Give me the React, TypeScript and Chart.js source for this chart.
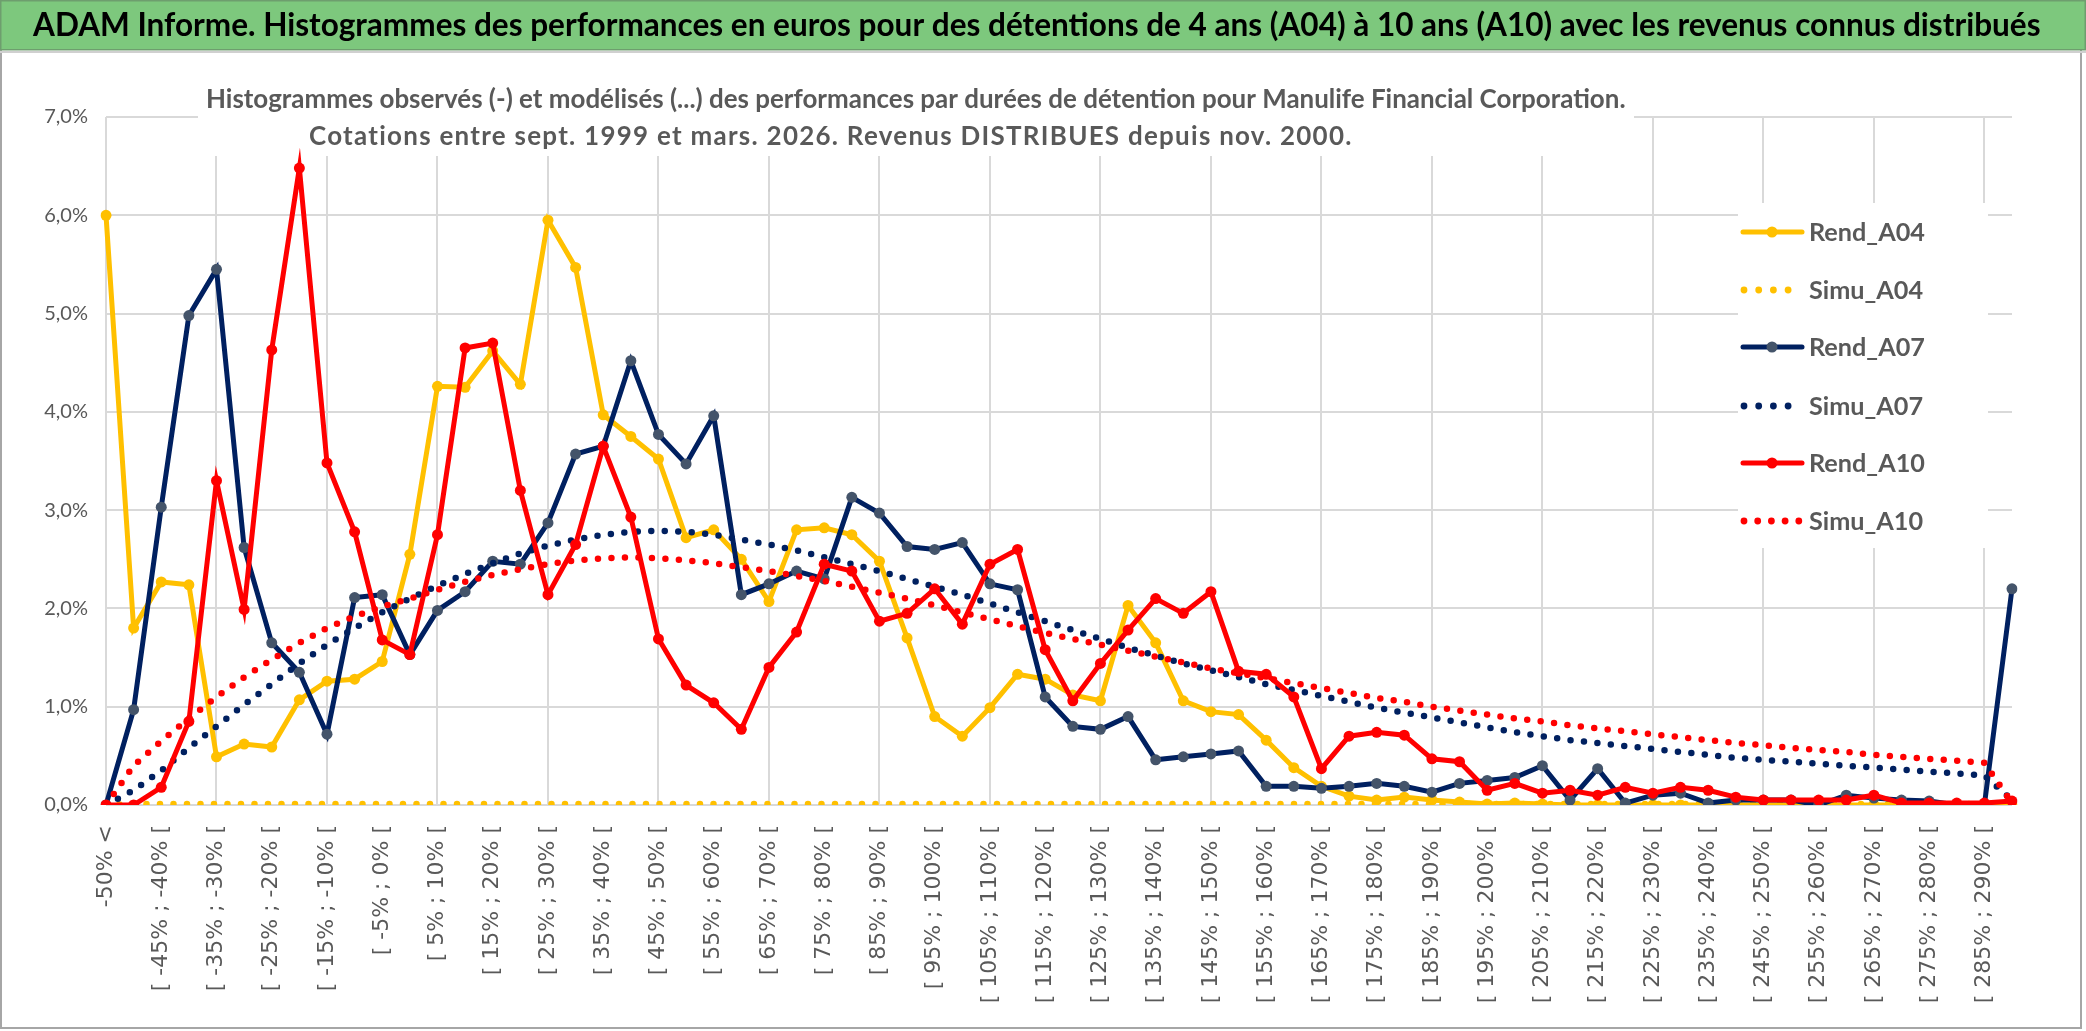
import React, { useEffect, useRef } from "react";
import { Chart, registerables } from "chart.js";

Chart.register(...registerables);

const TITLE =
  "ADAM Informe. Histogrammes des performances en euros pour des détentions de 4 ans (A04) à 10 ans (A10) avec les revenus connus distribués";
const SUBTITLE_1 =
  "Histogrammes observés (-) et modélisés (...) des performances par durées de détention pour Manulife Financial Corporation.";
const SUBTITLE_2 =
  "Cotations entre sept. 1999 et mars. 2026. Revenus DISTRIBUES depuis nov. 2000.";

const categories = [
  "-50% <",
  "[ -50% ; -45% [", "[ -45% ; -40% [", "[ -40% ; -35% [", "[ -35% ; -30% [",
  "[ -30% ; -25% [", "[ -25% ; -20% [", "[ -20% ; -15% [", "[ -15% ; -10% [",
  "[ -10% ; -5% [", "[ -5% ; 0% [", "[ 0% ; 5% [", "[ 5% ; 10% [",
  "[ 10% ; 15% [", "[ 15% ; 20% [", "[ 20% ; 25% [", "[ 25% ; 30% [",
  "[ 30% ; 35% [", "[ 35% ; 40% [", "[ 40% ; 45% [", "[ 45% ; 50% [",
  "[ 50% ; 55% [", "[ 55% ; 60% [", "[ 60% ; 65% [", "[ 65% ; 70% [",
  "[ 70% ; 75% [", "[ 75% ; 80% [", "[ 80% ; 85% [", "[ 85% ; 90% [",
  "[ 90% ; 95% [", "[ 95% ; 100% [", "[ 100% ; 105% [", "[ 105% ; 110% [",
  "[ 110% ; 115% [", "[ 115% ; 120% [", "[ 120% ; 125% [", "[ 125% ; 130% [",
  "[ 130% ; 135% [", "[ 135% ; 140% [", "[ 140% ; 145% [", "[ 145% ; 150% [",
  "[ 150% ; 155% [", "[ 155% ; 160% [", "[ 160% ; 165% [", "[ 165% ; 170% [",
  "[ 170% ; 175% [", "[ 175% ; 180% [", "[ 180% ; 185% [", "[ 185% ; 190% [",
  "[ 190% ; 195% [", "[ 195% ; 200% [", "[ 200% ; 205% [", "[ 205% ; 210% [",
  "[ 210% ; 215% [", "[ 215% ; 220% [", "[ 220% ; 225% [", "[ 225% ; 230% [",
  "[ 230% ; 235% [", "[ 235% ; 240% [", "[ 240% ; 245% [", "[ 245% ; 250% [",
  "[ 250% ; 255% [", "[ 255% ; 260% [", "[ 260% ; 265% [", "[ 265% ; 270% [",
  "[ 270% ; 275% [", "[ 275% ; 280% [", "[ 280% ; 285% [", "[ 285% ; 290% [",
  "> 290%",
];

const rendA04 = [
  6.0, 1.8, 2.27, 2.24, 0.49, 0.62, 0.59, 1.07, 1.26, 1.28,
  1.46, 2.55, 4.26, 4.25, 4.62, 4.28, 5.95, 5.47, 3.97, 3.75,
  3.52, 2.72, 2.8, 2.5, 2.07, 2.8, 2.82, 2.75, 2.48, 1.7,
  0.9, 0.7, 0.99, 1.33, 1.28, 1.12, 1.06, 2.03, 1.65, 1.06,
  0.95, 0.92, 0.66, 0.38, 0.19, 0.09, 0.05, 0.08, 0.05, 0.03,
  0.01, 0.02, 0.01, 0.0, 0.0, 0.0, 0.0, 0.0, 0.0, 0.0,
  0.0, 0.0, 0.0, 0.0, 0.0, 0.0, 0.0, 0.0, 0.0, 0.0,
];

const simuA04 = [
  0.0, 0.01, 0.01, 0.01, 0.01, 0.01, 0.01, 0.01, 0.01, 0.01,
  0.01, 0.01, 0.01, 0.01, 0.01, 0.01, 0.01, 0.01, 0.01, 0.01,
  0.01, 0.01, 0.01, 0.01, 0.01, 0.01, 0.01, 0.01, 0.01, 0.01,
  0.01, 0.01, 0.01, 0.01, 0.01, 0.01, 0.01, 0.01, 0.01, 0.01,
  0.01, 0.01, 0.01, 0.01, 0.01, 0.01, 0.01, 0.01, 0.01, 0.01,
  0.01, 0.01, 0.01, 0.01, 0.01, 0.01, 0.01, 0.01, 0.01, 0.01,
  0.01, 0.01, 0.01, 0.01, 0.01, 0.01, 0.01, 0.01, 0.01, 0.0,
];

const rendA07 = [
  0.0, 0.97, 3.03, 4.98, 5.45, 2.62, 1.65, 1.35, 0.72, 2.11,
  2.14, 1.53, 1.98, 2.17, 2.48, 2.45, 2.87, 3.57, 3.65, 4.52,
  3.77, 3.47, 3.96, 2.14, 2.25, 2.38, 2.3, 3.13, 2.97, 2.63,
  2.6, 2.67, 2.25, 2.19, 1.1, 0.8, 0.77, 0.9, 0.46, 0.49,
  0.52, 0.55, 0.19, 0.19, 0.17, 0.19, 0.22, 0.19, 0.13, 0.22,
  0.25, 0.28, 0.4, 0.05, 0.37, 0.02, 0.1, 0.12, 0.02, 0.05,
  0.05, 0.05, 0.0, 0.1, 0.07, 0.05, 0.04, 0.0, 0.0, 2.2,
];

const simuA07 = [
  0.0, 0.15, 0.35, 0.58, 0.8, 1.02, 1.23, 1.44, 1.63, 1.8,
  1.96, 2.1, 2.23, 2.35, 2.46, 2.56, 2.64, 2.7, 2.75, 2.78,
  2.79, 2.78, 2.75, 2.7, 2.65, 2.59, 2.52, 2.45, 2.38, 2.3,
  2.22, 2.14, 2.05, 1.96, 1.87, 1.78, 1.69, 1.6, 1.52, 1.44,
  1.37, 1.3, 1.23, 1.17, 1.11, 1.05, 0.99, 0.94, 0.89, 0.84,
  0.79, 0.74, 0.7, 0.66, 0.63, 0.6, 0.57, 0.54, 0.51, 0.48,
  0.46, 0.44, 0.42, 0.4, 0.38, 0.36, 0.34, 0.32, 0.3, 0.05,
];

const rendA10 = [
  0.0, 0.0, 0.18, 0.85, 3.3, 1.99, 4.63, 6.48, 3.48, 2.78,
  1.68, 1.53, 2.75, 4.65, 4.7, 3.2, 2.14, 2.65, 3.65, 2.93,
  1.69, 1.22, 1.04, 0.77, 1.4, 1.76, 2.45, 2.38, 1.87, 1.95,
  2.2, 1.84, 2.45, 2.6, 1.58, 1.06, 1.44, 1.78, 2.1, 1.95,
  2.17, 1.36, 1.33, 1.1, 0.37, 0.7, 0.74, 0.71, 0.47, 0.44,
  0.15, 0.22, 0.12, 0.15, 0.1, 0.18, 0.12, 0.18, 0.15, 0.08,
  0.05, 0.05, 0.05, 0.05, 0.1, 0.02, 0.02, 0.02, 0.02, 0.04,
];

const simuA10 = [
  0.0, 0.4, 0.65, 0.88, 1.1, 1.3, 1.48, 1.65, 1.8, 1.92,
  2.02, 2.1, 2.19, 2.27, 2.34, 2.4, 2.45, 2.49, 2.51, 2.52,
  2.51, 2.49, 2.46, 2.42, 2.38, 2.33, 2.28, 2.22, 2.16, 2.1,
  2.03, 1.96, 1.89, 1.82, 1.75, 1.69, 1.63, 1.57, 1.51, 1.45,
  1.39, 1.34, 1.29, 1.24, 1.19, 1.14, 1.09, 1.05, 1.0, 0.96,
  0.92, 0.88, 0.85, 0.81, 0.78, 0.75, 0.72, 0.69, 0.66, 0.63,
  0.61, 0.58, 0.56, 0.54, 0.51, 0.49, 0.47, 0.45, 0.43, 0.02,
];

const YELLOW = "#FFC000";
const NAVY = "#002060";
const NAVY_POINT = "#44546A";
const RED = "#FF0000";
const GRID = "#D9D9D9";
const TEXT_GREY = "#595959";

const legendItems = [
  { label: "Rend_A04", color: YELLOW, point: YELLOW, dotted: false, dots: 4 },
  { label: "Simu_A04", color: YELLOW, point: YELLOW, dotted: true, dots: 4 },
  { label: "Rend_A07", color: NAVY, point: NAVY_POINT, dotted: false, dots: 4 },
  { label: "Simu_A07", color: NAVY, point: NAVY, dotted: true, dots: 4 },
  { label: "Rend_A10", color: RED, point: RED, dotted: false, dots: 4 },
  { label: "Simu_A10", color: RED, point: RED, dotted: true, dots: 5 },
];

function fitFont(ctx: CanvasRenderingContext2D, text: string, weight: string, family: string, target: number) {
  ctx.font = `${weight} 100px ${family}`;
  const w = ctx.measureText(text).width;
  return (100 * target) / w;
}

const overlayPlugin = {
  id: "overlay",
  beforeDraw(chart: any) {
    const ctx: CanvasRenderingContext2D = chart.ctx;
    const W = chart.width;
    const H = chart.height;
    ctx.save();
    ctx.fillStyle = "#FFFFFF";
    ctx.fillRect(0, 0, W, H);
    ctx.strokeStyle = "#A6A6A6";
    ctx.lineWidth = 2;
    ctx.strokeRect(1, 1, W - 6, H - 4);
    ctx.fillStyle = "#7DC87D";
    ctx.fillRect(0, 0, W, 50);
    ctx.strokeStyle = "#6E9E6E";
    ctx.lineWidth = 1.5;
    ctx.strokeRect(0.75, 0.75, W - 1.5, 49);
    ctx.fillStyle = "#D0D0D0";
    ctx.fillRect(0, 51, W, 2);
    const fam = "Lato, 'Open Sans', sans-serif";
    const ts = fitFont(ctx, TITLE, "bold", fam, 2009);
    ctx.font = `bold ${ts}px ${fam}`;
    ctx.fillStyle = "#000000";
    ctx.textBaseline = "middle";
    ctx.textAlign = "left";
    ctx.fillText(TITLE, 33, 26);
    ctx.restore();
  },
  beforeDatasetsDraw(chart: any) {
    const ctx: any = chart.ctx;
    const area = chart.chartArea;
    const xs = chart.scales.x;
    ctx.save();
    // vertical gridlines every 4 categories
    ctx.strokeStyle = GRID;
    ctx.lineWidth = 2;
    for (let k = 0; k < categories.length; k += 4) {
      const x = Math.round(xs.getPixelForValue(k));
      ctx.beginPath();
      ctx.moveTo(x, area.top);
      ctx.lineTo(x, area.bottom);
      ctx.stroke();
    }
    const fam = "Lato, 'Open Sans', sans-serif";
    // subtitle
    const ss1 = fitFont(ctx, SUBTITLE_1, "bold", fam, 1420);
    ctx.fillStyle = "#FFFFFF";
    ctx.fillRect(198, 82, 1436, 74);
    ctx.fillStyle = TEXT_GREY;
    ctx.textBaseline = "middle";
    ctx.textAlign = "left";
    ctx.font = `bold ${ss1}px ${fam}`;
    ctx.fillText(SUBTITLE_1, 206, 100);
    const w2 = ctx.measureText(SUBTITLE_2).width;
    const spacing = Math.max(0, (1044 - w2) / SUBTITLE_2.length);
    ctx.letterSpacing = `${spacing.toFixed(2)}px`;
    ctx.fillText(SUBTITLE_2, 309, 137);
    ctx.letterSpacing = "0px";

    // legend
    ctx.fillStyle = "#FFFFFF";
    ctx.fillRect(1738, 203, 250, 345);
    const ls = fitFont(ctx, "Rend_A04", "bold", fam, 116);
    const ys = [232, 290, 347, 406, 463, 521];
    legendItems.forEach((it, i) => {
      const y = ys[i];
      if (!it.dotted) {
        ctx.strokeStyle = it.color;
        ctx.lineWidth = 5;
        ctx.lineCap = "round";
        ctx.beginPath();
        ctx.moveTo(1743, y);
        ctx.lineTo(1802, y);
        ctx.stroke();
        ctx.fillStyle = it.point;
        ctx.beginPath();
        ctx.arc(1772, y, 5.5, 0, Math.PI * 2);
        ctx.fill();
      } else {
        ctx.fillStyle = it.color;
        const n = it.dots;
        const step = n === 5 ? 13.7 : 14.7;
        for (let d = 0; d < n; d++) {
          ctx.beginPath();
          ctx.arc(1744 + d * step, y, 3.4, 0, Math.PI * 2);
          ctx.fill();
        }
      }
      ctx.font = `bold ${ls}px ${fam}`;
      ctx.fillStyle = TEXT_GREY;
      ctx.textBaseline = "middle";
      ctx.textAlign = "left";
      ctx.fillText(it.label, 1809, y + 1);
    });
    ctx.restore();
  },
};

export default function App() {
  const ref = useRef<HTMLCanvasElement | null>(null);
  useEffect(() => {
    document.body.style.margin = "0";
    const canvas = ref.current;
    if (!canvas) return;
    const solid = (label: string, data: number[], color: string, point: string, order: number) => ({
      label,
      data,
      borderColor: color,
      backgroundColor: point,
      pointBackgroundColor: point,
      pointBorderColor: point,
      pointBorderWidth: 0,
      pointRadius: 5.5,
      borderWidth: 5,
      tension: 0,
      fill: false,
      order,
    });
    const dotted = (label: string, data: number[], color: string, order: number) => ({
      label,
      data,
      borderColor: color,
      backgroundColor: color,
      pointRadius: 0,
      borderWidth: 6.5,
      borderDash: [0, 13.5],
      borderCapStyle: "round" as const,
      tension: 0,
      fill: false,
      order,
    });
    const chart = new Chart(canvas, {
      type: "line",
      data: {
        labels: categories,
        datasets: [
          solid("Rend_A04", rendA04, YELLOW, YELLOW, 5),
          dotted("Simu_A04", simuA04, YELLOW, 4),
          solid("Rend_A07", rendA07, NAVY, NAVY_POINT, 3),
          dotted("Simu_A07", simuA07, NAVY, 2),
          solid("Rend_A10", rendA10, RED, RED, 1),
          dotted("Simu_A10", simuA10, RED, 0),
        ] as any,
      },
      options: {
        animation: false,
        responsive: false,
        devicePixelRatio: 1,
        layout: { padding: { left: 0, right: 74, top: 117, bottom: 10 } },
        plugins: {
          legend: { display: false },
          title: { display: false },
          tooltip: { enabled: false },
        },
        scales: {
          x: {
            type: "category",
            offset: false,
            border: { display: false },
            grid: { display: false, drawTicks: false },
            ticks: {
              autoSkip: false,
              maxRotation: 90,
              minRotation: 90,
              padding: 20,
              color: TEXT_GREY,
              font: { family: "'DejaVu Sans', Verdana, sans-serif", size: 22 },
              callback: (_v: any, i: number) => (i % 2 === 0 ? categories[i] : ""),
            },
            afterFit: (s: any) => {
              s.height = 216;
            },
          },
          y: {
            min: 0,
            max: 7,
            border: { display: false },
            grid: { drawTicks: false, lineWidth: 2, color: GRID },
            ticks: {
              stepSize: 1,
              padding: 18,
              color: TEXT_GREY,
              font: { family: "Lato, 'Open Sans', sans-serif", size: 20 },
              callback: (v: any) => Number(v).toFixed(1).replace(".", ",") + "%",
            },
            afterFit: (s: any) => {
              s.width = 106;
            },
          },
        },
      } as any,
      plugins: [overlayPlugin],
    });
    return () => chart.destroy();
  }, []);
  return (
    <div style={{ width: 2086, height: 1031, overflow: "hidden", position: "relative", background: "#fff" }}>
      <canvas ref={ref} width={2086} height={1031} style={{ display: "block", width: 2086, height: 1031 }} />
    </div>
  );
}
